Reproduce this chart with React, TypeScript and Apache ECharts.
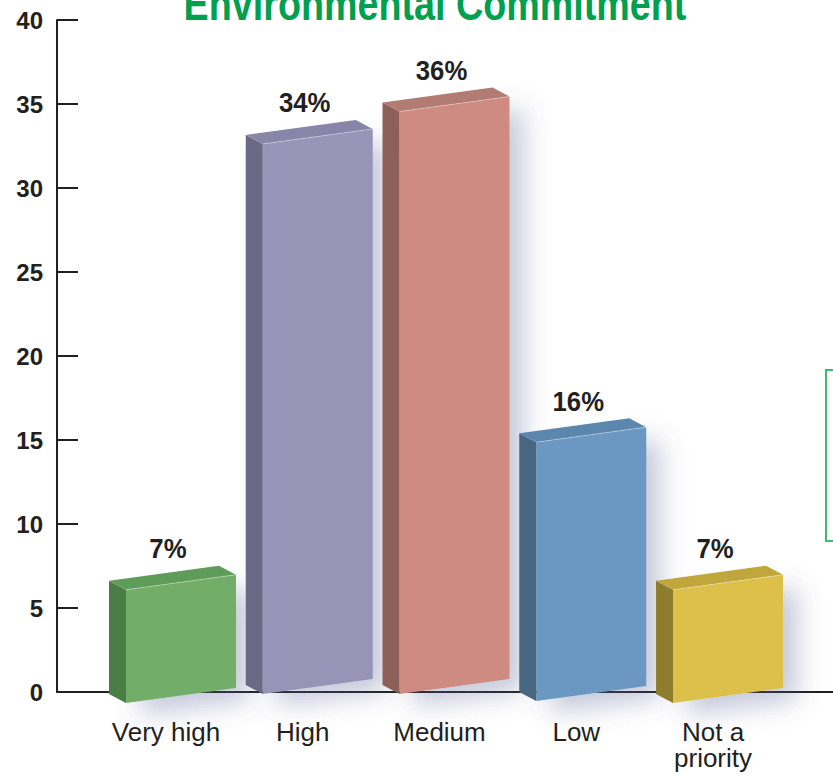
import React, { useEffect, useRef } from "react";
import * as echarts from "echarts";

const categories = ["Very high", "High", "Medium", "Low", "Not a\npriority"];
const values = [7, 34, 36, 16, 7];
const yTicks = { min: 0, max: 40, interval: 5 };
const titleText = "Environmental Commitment";

// styles (not data)
const faceColors = [
  { front: "#73ae69", side: "#4b7d47", top: "#5f9b59" },
  { front: "#9894b8", side: "#6b6986", top: "#8985a9" },
  { front: "#cd8b82", side: "#8c5f5a", top: "#b27b73" },
  { front: "#6a98c2", side: "#476680", top: "#5b87af" },
  { front: "#dcc048", side: "#8f7d2e", top: "#c0a63b" },
];
const baseDrop = [11, 2, 2, 9, 11];

const SANS = '"Liberation Sans", Arial, Helvetica, sans-serif';
const INK = "#231f20";

export default function App() {
  const ref = useRef<HTMLDivElement>(null);
  useEffect(() => {
    if (!ref.current) return;
    const chart = echarts.init(ref.current, undefined, { renderer: "svg" });
    const data = values.map((v, i) => [i, v]);
    const renderItem = (params: any, api: any) => {
      const i = api.value(0);
      const v = api.value(1);
      const top = api.coord([i, v]);
      const base = api.coord([i, 0]);
      const cx = top[0];
      const H = (base[1] - top[1]) * 0.963;
      const drop = baseDrop[i];
      const fl = cx - 46;
      const fr = cx + 64;
      const BL = [fl, base[1] + drop];
      const BR = [fr, base[1] + drop - 15];
      const TL = [fl, BL[1] - H];
      const TR = [fr, BR[1] - H];
      const dx = -17, dy = -9;
      const c = faceColors[i];
      return {
        type: "group",
        children: [
          {
            type: "polygon",
            shape: { points: [TL, TR, BR, BL] },
            style: {
              fill: c.front,
              shadowBlur: 26,
              shadowColor: "rgba(90,100,150,0.35)",
              shadowOffsetX: 14,
              shadowOffsetY: 12,
            },
          },
          {
            type: "polygon",
            shape: { points: [TL, BL, [BL[0] + dx, BL[1] + dy], [TL[0] + dx, TL[1] + dy]] },
            style: { fill: c.side },
          },
          {
            type: "polygon",
            shape: { points: [TL, TR, [TR[0] + dx, TR[1] + dy], [TL[0] + dx, TL[1] + dy]] },
            style: { fill: c.top },
          },
          {
            type: "line",
            shape: { x1: TL[0], y1: TL[1], x2: TR[0], y2: TR[1] },
            style: { stroke: "rgba(255,255,255,0.35)", lineWidth: 1 },
          },
          {
            type: "text",
            x: cx - 4,
            y: TR[1] + dy - 3,
            scaleX: 0.92,
            style: {
              text: v + "%",
              align: "center",
              verticalAlign: "bottom",
              font: `bold 28px ${SANS}`,
              fill: INK,
            },
          },
        ],
      };
    };
    chart.setOption({
      animation: false,
      backgroundColor: "#ffffff",
      graphic: [
        {
          type: "text",
          x: 435,
          y: 4,
          scaleX: 0.82,
          style: {
            text: titleText,
            align: "center",
            verticalAlign: "middle",
            font: `bold 46px ${SANS}`,
            fill: "#00a04f",
          },
        },
        {
          type: "rect",
          shape: { x: 826, y: 370, width: 40, height: 171 },
          style: { fill: "none", stroke: "#3dba74", lineWidth: 2 },
        },
      ],
      grid: [
        { left: 103.6, right: 45.6, top: 20, bottom: 84 },
        { left: 57, right: 0, top: 20, bottom: 84 },
      ],
      xAxis: [
        {
          type: "category",
          gridIndex: 0,
          data: categories,
          axisLine: { show: false },
          axisTick: { show: false },
          axisLabel: {
            color: INK,
            fontFamily: SANS,
            fontSize: 26,
            lineHeight: 26,
            margin: 27,
            padding: [0, 12, 0, 0],
            interval: 0,
          },
        },
        {
          type: "value",
          gridIndex: 1,
          min: 0,
          max: 1,
          axisLine: { show: true, onZero: false, lineStyle: { color: INK, width: 2 } },
          axisTick: { show: false },
          axisLabel: { show: false },
          splitLine: { show: false },
        },
      ],
      yAxis: [
        {
          type: "value",
          gridIndex: 0,
          min: yTicks.min,
          max: yTicks.max,
          interval: yTicks.interval,
          offset: 46.6,
          axisLine: { show: true, lineStyle: { color: INK, width: 2 } },
          axisTick: { show: true, inside: true, length: 21, lineStyle: { color: INK, width: 2 } },
          axisLabel: {
            color: INK,
            fontFamily: SANS,
            fontWeight: "bold",
            fontSize: 24,
            margin: 14,
          },
          splitLine: { show: false },
        },
        { type: "value", gridIndex: 1, show: false },
      ],
      series: [
        {
          type: "custom",
          xAxisIndex: 0,
          yAxisIndex: 0,
          renderItem,
          data,
          clip: false,
        },
      ],
    });
    return () => chart.dispose();
  }, []);
  return (
    <div
      ref={ref}
      style={{ position: "fixed", left: 0, top: 0, width: 833, height: 776, background: "#fff" }}
    />
  );
}
